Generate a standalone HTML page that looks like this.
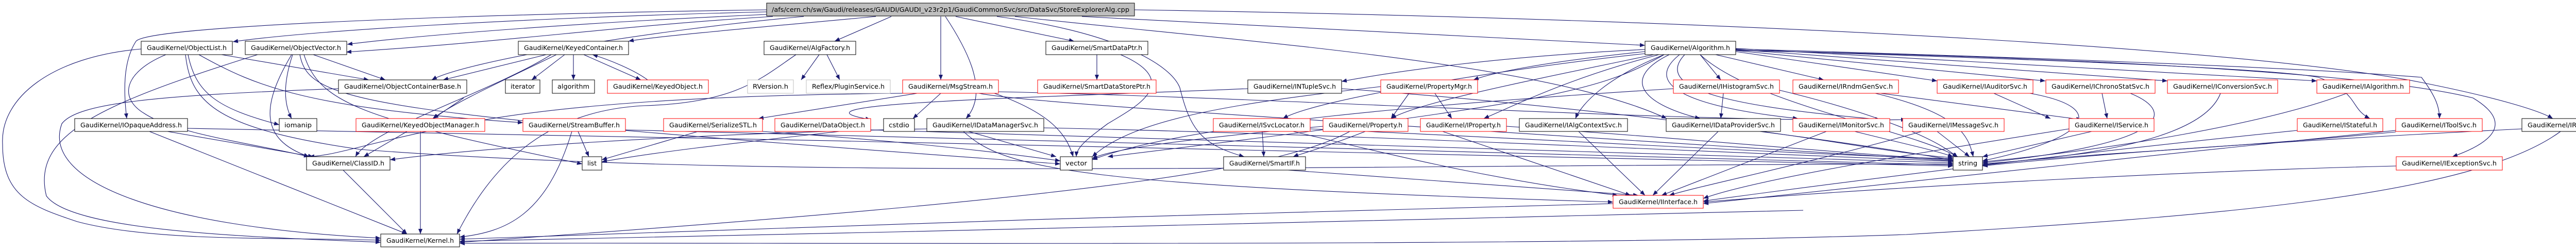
<!DOCTYPE html>
<html><head><meta charset="utf-8"><style>
html,body{margin:0;padding:0;background:#fff;width:5067px;height:485px;overflow:hidden;}
svg{display:block;}
text{font-family:"DejaVu Sans","Liberation Sans",sans-serif;font-size:12px;fill:#000;}
.e{fill:none;stroke:#191970;stroke-width:1.1;marker-end:url(#a);}
.b{fill:#fff;stroke:#000;stroke-width:1;}
.r{fill:#fff;stroke:#ff0000;stroke-width:1;}
.g{fill:#fff;stroke:#bfbfbf;stroke-width:1;}
</style></head><body>
<svg width="5067" height="485" viewBox="0 0 5067 485" preserveAspectRatio="none" xmlns="http://www.w3.org/2000/svg">
<defs><marker id="a" markerUnits="userSpaceOnUse" markerWidth="10" markerHeight="8" refX="10" refY="4" orient="auto"><path d="M0,0 L10,4 L0,8 z" fill="#191970"/></marker></defs>
<g>
<path class="e" d="M1488,23 C1000,35 600,60 452,81"/>
<path class="e" d="M1488,28 C1100,45 800,70 674,86"/>
<path class="e" d="M1488,19 C900,28 290,50 264,80 C238,120 240,180 246,230"/>
<path class="e" d="M1560,32 C1250,60 900,120 838,155"/>
<path class="e" d="M1700,32 C1450,55 1260,72 1220,80"/>
<path class="e" d="M1730,32 L1620,80"/>
<path class="e" d="M1826,32 L1826,155"/>
<path class="e" d="M1835,32 C1880,100 1920,180 1875,230"/>
<path class="e" d="M1855,32 L2085,80"/>
<path class="e" d="M1935,32 C2150,60 2270,120 2290,170 C2310,250 2330,280 2415,304"/>
<path class="e" d="M1970,32 C2400,80 3000,120 3235,230"/>
<path class="e" d="M2100,32 L3193,88"/>
<path class="e" d="M2202,19 C3500,40 4400,100 4700,160 C4850,190 4930,215 4955,230"/>
<path class="e" d="M1500,32 C1200,50 1000,80 672,101"/>
<path class="e" d="M430,106 L716,155"/>
<path class="e" d="M365,106 C380,180 420,210 542,242"/>
<path class="e" d="M322,106 C240,140 230,190 280,220 C340,260 500,280 600,304"/>
<path class="e" d="M274,95 C100,110 0,190 5,280 C5,380 60,400 150,430 C300,470 550,460 739,466"/>
<path class="e" d="M386,106 C500,170 600,210 1015,238"/>
<path class="e" d="M360,106 C370,200 420,250 700,290 C1500,350 2500,320 3791,318"/>
<path class="e" d="M608,106 L748,155"/>
<path class="e" d="M568,106 C550,160 550,200 566,230"/>
<path class="e" d="M566,106 C510,200 500,270 600,304"/>
<path class="e" d="M500,106 C200,200 60,260 90,380 C140,450 500,460 739,470"/>
<path class="e" d="M582,106 C600,200 700,220 2058,318"/>
<path class="e" d="M590,106 C620,200 700,230 1130,318"/>
<path class="e" d="M1096,106 L1032,155"/>
<path class="e" d="M1113,106 L1113,155"/>
<path class="e" d="M1133,106 L1244,155"/>
<path class="e" d="M1257,155 C1230,135 1180,115 1150,106"/>
<path class="e" d="M1060,106 C960,130 880,150 860,155"/>
<path class="e" d="M1080,106 C990,150 880,200 840,230"/>
<path class="e" d="M1070,106 C950,180 720,250 690,304"/>
<path class="e" d="M1590,106 L1555,155"/>
<path class="e" d="M1605,106 L1630,155"/>
<path class="e" d="M1545,106 C1480,150 1430,200 1250,205 C1050,215 950,330 887,454"/>
<path class="e" d="M657,172 C300,185 150,200 120,240 C80,350 300,440 739,462"/>
<path class="e" d="M900,190 L841,230"/>
<path class="e" d="M1780,181 L1472,230"/>
<path class="e" d="M1826,181 L1772,230"/>
<path class="e" d="M1930,181 C2040,220 2070,260 2083,304"/>
<path class="e" d="M1938,178 C2500,190 3300,240 3700,232"/>
<path class="e" d="M1900,181 C2000,200 2500,230 3791,312"/>
<path class="e" d="M1752,181 C1300,185 1050,210 900,240 C700,280 660,300 600,304"/>
<path class="e" d="M2129,106 L2129,155"/>
<path class="e" d="M2175,106 C2300,160 2200,210 2150,240 C2110,270 2090,285 2089,304"/>
<path class="e" d="M3193,100 C3000,120 2900,140 2860,155"/>
<path class="e" d="M3193,96 C2900,110 2700,140 2604,158"/>
<path class="e" d="M3300,106 L3340,155"/>
<path class="e" d="M3330,106 L3540,155"/>
<path class="e" d="M3369,100 L3760,157"/>
<path class="e" d="M3369,98 L3970,157"/>
<path class="e" d="M3369,96 L4207,157"/>
<path class="e" d="M3369,94 L4497,157"/>
<path class="e" d="M3369,97 C3800,110 4400,130 4500,150 C4580,180 4560,210 4600,230"/>
<path class="e" d="M3369,95 C3900,110 4450,130 4700,150 C4730,190 4735,210 4735,230"/>
<path class="e" d="M3369,98 C4000,110 4600,140 4800,190 C4900,250 4800,290 4760,304"/>
<path class="e" d="M3220,106 C3050,150 2950,200 2880,230"/>
<path class="e" d="M3210,106 C2950,160 2750,200 2700,230"/>
<path class="e" d="M3193,104 C2950,130 2560,190 2490,230"/>
<path class="e" d="M3230,106 C3120,150 3070,200 3058,230"/>
<path class="e" d="M3240,106 C3150,150 3180,200 3300,230"/>
<path class="e" d="M3260,106 C3180,170 3300,210 3490,230"/>
<path class="e" d="M3270,106 C3200,180 3400,210 3650,232"/>
<path class="e" d="M3230,106 C3100,180 3000,200 2150,304"/>
<path class="e" d="M3300,106 C3400,200 3700,250 3800,304"/>
<path class="e" d="M2680,168 C2400,200 2200,230 2120,304"/>
<path class="e" d="M2735,181 L2700,230"/>
<path class="e" d="M2785,181 L2818,230"/>
<path class="e" d="M2422,172 C2000,190 1500,200 1690,232"/>
<path class="e" d="M2604,172 C3000,200 3500,260 3800,312"/>
<path class="e" d="M3248,172 C2800,200 2300,240 2120,310"/>
<path class="e" d="M3345,181 L3340,230"/>
<path class="e" d="M3454,175 C3600,210 3750,260 3800,306"/>
<path class="e" d="M3640,181 C3800,220 3820,260 3830,304"/>
<path class="e" d="M3650,181 L4040,232"/>
<path class="e" d="M3870,181 L3980,230"/>
<path class="e" d="M3940,181 C4100,210 4050,270 3848,312"/>
<path class="e" d="M4080,181 L4090,230"/>
<path class="e" d="M4135,181 C4230,220 4200,280 3848,316"/>
<path class="e" d="M4310,181 C4280,260 4100,300 3848,318"/>
<path class="e" d="M4555,181 C4400,240 4100,290 3848,314"/>
<path class="e" d="M325,255 L608,304"/>
<path class="e" d="M290,255 L790,454"/>
<path class="e" d="M364,249 C1500,270 3000,300 3791,322"/>
<path class="e" d="M790,255 L706,304"/>
<path class="e" d="M816,255 L816,454"/>
<path class="e" d="M1122,255 L1143,304"/>
<path class="e" d="M1110,255 C1060,420 980,450 892,460"/>
<path class="e" d="M1214,252 C2000,270 3000,300 3791,320"/>
<path class="e" d="M1355,255 L1168,310"/>
<path class="e" d="M1480,255 C1700,270 1900,290 2058,312"/>
<path class="e" d="M1690,252 C2500,280 3300,300 3791,316"/>
<path class="e" d="M1690,248 C1500,270 1300,290 1168,314"/>
<path class="e" d="M1880,255 L2050,304"/>
<path class="e" d="M1870,255 C1950,330 2100,360 3131,392"/>
<path class="e" d="M1799,250 C1300,260 900,290 757,310"/>
<path class="e" d="M2026,248 C2600,260 3200,290 3791,313"/>
<path class="e" d="M2450,255 L2453,304"/>
<path class="e" d="M2510,255 C2700,300 2900,350 3140,379"/>
<path class="e" d="M2543,250 C3000,270 3500,300 3791,308"/>
<path class="e" d="M2620,255 C2500,320 2200,380 892,470"/>
<path class="e" d="M2650,255 C2560,290 2520,300 2510,304"/>
<path class="e" d="M2568,245 C2300,270 2150,290 2120,308"/>
<path class="e" d="M2800,255 L3165,379"/>
<path class="e" d="M2924,245 C3300,270 3600,300 3791,310"/>
<path class="e" d="M3064,255 L3193,379"/>
<path class="e" d="M3335,255 L3208,379"/>
<path class="e" d="M3420,255 C3600,280 3700,300 3791,306"/>
<path class="e" d="M3545,255 L3225,379"/>
<path class="e" d="M3600,255 C3700,280 3750,290 3791,304"/>
<path class="e" d="M3760,255 L3823,304"/>
<path class="e" d="M3730,255 C3500,320 3300,360 3240,379"/>
<path class="e" d="M4060,255 L3848,304"/>
<path class="e" d="M4016,250 C3700,300 3400,350 3306,385"/>
<path class="e" d="M4459,253 C4000,300 3600,350 3306,390"/>
<path class="e" d="M4650,253 C4200,300 3700,350 3306,395"/>
<path class="e" d="M4650,256 C4300,290 4000,300 3848,320"/>
<path class="e" d="M4895,250 C4500,270 4100,295 3848,322"/>
<path class="e" d="M4970,255 C4800,380 4300,420 3700,455 C3000,480 1500,470 892,472"/>
<path class="e" d="M666,330 L790,454"/>
<path class="e" d="M2500,330 L3180,379"/>
<path class="e" d="M4651,322 C4300,330 3700,360 3306,392"/>
<path class="e" d="M3131,395 C2500,410 1500,440 892,464"/>
<path class="e" d="M3500,408 C3000,420 1800,450 892,468"/>
</g>
<g>
<rect class="b" x="1488" y="6" width="714" height="25" style="fill:#bfbfbf"/><text x="1498" y="23" textLength="694" lengthAdjust="spacingAndGlyphs">/afs/cern.ch/sw/Gaudi/releases/GAUDI/GAUDI_v23r2p1/GaudiCommonSvc/src/DataSvc/StoreExplorerAlg.cpp</text>
<rect class="b" x="274" y="80" width="177" height="26"/><text x="285" y="97" textLength="155" lengthAdjust="spacingAndGlyphs">GaudiKernel/ObjectList.h</text>
<rect class="b" x="476" y="80" width="197" height="26"/><text x="487" y="97" textLength="175" lengthAdjust="spacingAndGlyphs">GaudiKernel/ObjectVector.h</text>
<rect class="b" x="1006" y="80" width="214" height="26"/><text x="1017" y="97" textLength="192" lengthAdjust="spacingAndGlyphs">GaudiKernel/KeyedContainer.h</text>
<rect class="b" x="1483" y="80" width="178" height="26"/><text x="1494" y="97" textLength="156" lengthAdjust="spacingAndGlyphs">GaudiKernel/AlgFactory.h</text>
<rect class="b" x="2030" y="80" width="198" height="26"/><text x="2041" y="97" textLength="176" lengthAdjust="spacingAndGlyphs">GaudiKernel/SmartDataPtr.h</text>
<rect class="b" x="3193" y="80" width="176" height="26"/><text x="3204" y="97" textLength="154" lengthAdjust="spacingAndGlyphs">GaudiKernel/Algorithm.h</text>
<rect class="b" x="657" y="155" width="249" height="26"/><text x="668" y="172" textLength="227" lengthAdjust="spacingAndGlyphs">GaudiKernel/ObjectContainerBase.h</text>
<rect class="b" x="981" y="155" width="67" height="26"/><text x="991" y="172" textLength="47" lengthAdjust="spacingAndGlyphs">iterator</text>
<rect class="b" x="1072" y="155" width="82" height="26"/><text x="1082" y="172" textLength="62" lengthAdjust="spacingAndGlyphs">algorithm</text>
<rect class="r" x="1179" y="155" width="196" height="26"/><text x="1190" y="172" textLength="174" lengthAdjust="spacingAndGlyphs">GaudiKernel/KeyedObject.h</text>
<rect class="g" x="1451" y="155" width="89" height="26"/><text x="1461" y="172" textLength="69" lengthAdjust="spacingAndGlyphs">RVersion.h</text>
<rect class="g" x="1565" y="155" width="163" height="26"/><text x="1576" y="172" textLength="141" lengthAdjust="spacingAndGlyphs">Reflex/PluginService.h</text>
<rect class="r" x="1752" y="155" width="186" height="26"/><text x="1763" y="172" textLength="164" lengthAdjust="spacingAndGlyphs">GaudiKernel/MsgStream.h</text>
<rect class="r" x="2014" y="155" width="230" height="26"/><text x="2025" y="172" textLength="208" lengthAdjust="spacingAndGlyphs">GaudiKernel/SmartDataStorePtr.h</text>
<rect class="b" x="2422" y="155" width="182" height="26"/><text x="2433" y="172" textLength="160" lengthAdjust="spacingAndGlyphs">GaudiKernel/INTupleSvc.h</text>
<rect class="r" x="2680" y="155" width="188" height="26"/><text x="2691" y="172" textLength="166" lengthAdjust="spacingAndGlyphs">GaudiKernel/PropertyMgr.h</text>
<rect class="r" x="3248" y="155" width="206" height="26"/><text x="3259" y="172" textLength="184" lengthAdjust="spacingAndGlyphs">GaudiKernel/IHistogramSvc.h</text>
<rect class="r" x="3480" y="155" width="205" height="26"/><text x="3491" y="172" textLength="183" lengthAdjust="spacingAndGlyphs">GaudiKernel/IRndmGenSvc.h</text>
<rect class="r" x="3760" y="155" width="186" height="26"/><text x="3771" y="172" textLength="164" lengthAdjust="spacingAndGlyphs">GaudiKernel/IAuditorSvc.h</text>
<rect class="r" x="3971" y="155" width="212" height="26"/><text x="3982" y="172" textLength="190" lengthAdjust="spacingAndGlyphs">GaudiKernel/IChronoStatSvc.h</text>
<rect class="r" x="4207" y="155" width="214" height="26"/><text x="4218" y="172" textLength="192" lengthAdjust="spacingAndGlyphs">GaudiKernel/IConversionSvc.h</text>
<rect class="r" x="4497" y="155" width="180" height="26"/><text x="4508" y="172" textLength="158" lengthAdjust="spacingAndGlyphs">GaudiKernel/IAlgorithm.h</text>
<rect class="b" x="145" y="230" width="219" height="25"/><text x="156" y="247" textLength="197" lengthAdjust="spacingAndGlyphs">GaudiKernel/IOpaqueAddress.h</text>
<rect class="b" x="542" y="230" width="73" height="25"/><text x="552" y="247" textLength="53" lengthAdjust="spacingAndGlyphs">iomanip</text>
<rect class="r" x="691" y="230" width="250" height="25"/><text x="702" y="247" textLength="228" lengthAdjust="spacingAndGlyphs">GaudiKernel/KeyedObjectManager.h</text>
<rect class="r" x="1015" y="230" width="199" height="25"/><text x="1026" y="247" textLength="177" lengthAdjust="spacingAndGlyphs">GaudiKernel/StreamBuffer.h</text>
<rect class="r" x="1288" y="230" width="192" height="25"/><text x="1299" y="247" textLength="170" lengthAdjust="spacingAndGlyphs">GaudiKernel/SerializeSTL.h</text>
<rect class="r" x="1504" y="230" width="186" height="25"/><text x="1515" y="247" textLength="164" lengthAdjust="spacingAndGlyphs">GaudiKernel/DataObject.h</text>
<rect class="b" x="1715" y="230" width="60" height="25"/><text x="1725" y="247" textLength="40" lengthAdjust="spacingAndGlyphs">cstdio</text>
<rect class="b" x="1799" y="230" width="227" height="25"/><text x="1810" y="247" textLength="205" lengthAdjust="spacingAndGlyphs">GaudiKernel/IDataManagerSvc.h</text>
<rect class="r" x="2355" y="230" width="188" height="25"/><text x="2366" y="247" textLength="166" lengthAdjust="spacingAndGlyphs">GaudiKernel/ISvcLocator.h</text>
<rect class="r" x="2568" y="230" width="165" height="25"/><text x="2579" y="247" textLength="143" lengthAdjust="spacingAndGlyphs">GaudiKernel/Property.h</text>
<rect class="r" x="2757" y="230" width="167" height="25"/><text x="2768" y="247" textLength="145" lengthAdjust="spacingAndGlyphs">GaudiKernel/IProperty.h</text>
<rect class="b" x="2949" y="230" width="210" height="25"/><text x="2960" y="247" textLength="188" lengthAdjust="spacingAndGlyphs">GaudiKernel/IAlgContextSvc.h</text>
<rect class="b" x="3234" y="230" width="222" height="25"/><text x="3245" y="247" textLength="200" lengthAdjust="spacingAndGlyphs">GaudiKernel/IDataProviderSvc.h</text>
<rect class="r" x="3480" y="230" width="188" height="25"/><text x="3491" y="247" textLength="166" lengthAdjust="spacingAndGlyphs">GaudiKernel/IMonitorSvc.h</text>
<rect class="r" x="3693" y="230" width="197" height="25"/><text x="3704" y="247" textLength="175" lengthAdjust="spacingAndGlyphs">GaudiKernel/IMessageSvc.h</text>
<rect class="r" x="4016" y="230" width="165" height="25"/><text x="4027" y="247" textLength="143" lengthAdjust="spacingAndGlyphs">GaudiKernel/IService.h</text>
<rect class="r" x="4459" y="230" width="166" height="25"/><text x="4470" y="247" textLength="144" lengthAdjust="spacingAndGlyphs">GaudiKernel/IStateful.h</text>
<rect class="r" x="4650" y="230" width="168" height="25"/><text x="4661" y="247" textLength="146" lengthAdjust="spacingAndGlyphs">GaudiKernel/IToolSvc.h</text>
<rect class="b" x="4895" y="230" width="171" height="25"/><text x="4906" y="247" textLength="149" lengthAdjust="spacingAndGlyphs">GaudiKernel/IRegistry.h</text>
<rect class="b" x="595" y="304" width="162" height="26"/><text x="606" y="321" textLength="140" lengthAdjust="spacingAndGlyphs">GaudiKernel/ClassID.h</text>
<rect class="b" x="1130" y="304" width="38" height="26"/><text x="1140" y="321" textLength="18" lengthAdjust="spacingAndGlyphs">list</text>
<rect class="b" x="2058" y="304" width="62" height="26"/><text x="2068" y="321" textLength="42" lengthAdjust="spacingAndGlyphs">vector</text>
<rect class="b" x="2375" y="304" width="159" height="26"/><text x="2386" y="321" textLength="137" lengthAdjust="spacingAndGlyphs">GaudiKernel/SmartIF.h</text>
<rect class="b" x="3791" y="304" width="57" height="26"/><text x="3801" y="321" textLength="37" lengthAdjust="spacingAndGlyphs">string</text>
<rect class="r" x="4651" y="304" width="206" height="26"/><text x="4662" y="321" textLength="184" lengthAdjust="spacingAndGlyphs">GaudiKernel/IExceptionSvc.h</text>
<rect class="r" x="3131" y="379" width="175" height="25"/><text x="3142" y="396" textLength="153" lengthAdjust="spacingAndGlyphs">GaudiKernel/IInterface.h</text>
<rect class="b" x="739" y="454" width="153" height="25"/><text x="750" y="471" textLength="131" lengthAdjust="spacingAndGlyphs">GaudiKernel/Kernel.h</text>
</g>
</svg>
</body></html>
